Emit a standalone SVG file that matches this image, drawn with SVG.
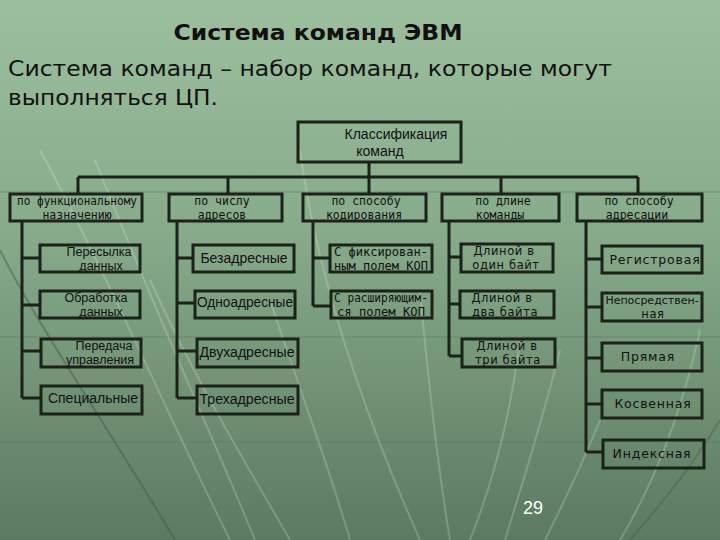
<svg xmlns="http://www.w3.org/2000/svg" width="720" height="540" viewBox="0 0 720 540">
<defs>
<linearGradient id="bg" x1="0" y1="0" x2="0" y2="1">
<stop offset="0" stop-color="#9cc09e"/>
<stop offset="0.45" stop-color="#86a98a"/>
<stop offset="1" stop-color="#5b7a60"/>
</linearGradient>
<style>
.box{fill:none;stroke:#1b2218;stroke-width:3}
.ln{fill:none;stroke:#1b2218;stroke-width:3}
.bgl{fill:none;stroke:#e8f4e6;stroke-opacity:0.22;stroke-width:2}
.hl{fill:none;stroke:#5e7e62;stroke-opacity:0.4;stroke-width:1.5}
.t{font-family:"Liberation Sans",Arial,sans-serif;font-size:14px;fill:#111;text-anchor:middle}
.t2{font-family:"Liberation Sans",Arial,sans-serif;font-size:12.5px;fill:#111;text-anchor:middle}
.c{font-family:"DejaVu Sans Mono","Liberation Mono",monospace;font-size:11.5px;fill:#111;text-anchor:middle}
.p{font-family:"DejaVu Sans","Liberation Sans",sans-serif;font-size:12.5px;fill:#111;text-anchor:middle;letter-spacing:0.8px}
.p2{font-family:"DejaVu Sans","Liberation Sans",sans-serif;font-size:11.5px;fill:#111;text-anchor:middle;letter-spacing:0.6px}
</style>
</defs>
<rect width="720" height="540" fill="url(#bg)"/>
<g id="background">
<path class="hl" d="M0 192 H720"/>
<path class="hl" d="M0 337 H720"/>
<path class="hl" d="M0 442 H720"/>
<path class="bgl" d="M40 150 C110 280 170 420 230 540"/>
<path class="bgl" d="M95 160 C150 300 210 430 255 540"/>
<path class="bgl" d="M150 280 C200 390 250 470 290 540"/>
<path class="bgl" d="M270 300 C300 390 330 470 350 540"/>
<path class="bgl" d="M300 150 C320 300 380 450 420 540"/>
<path class="bgl" d="M420 290 C430 400 440 480 450 540"/>
<path class="bgl" d="M520 340 C510 420 490 490 470 540"/>
<path class="bgl" d="M560 350 C540 430 520 490 505 540"/>
<path class="bgl" d="M600 420 C580 470 560 510 545 540"/>
<path class="bgl" d="M700 330 C680 420 650 490 620 540"/>
<path fill="none" stroke="#3f5a43" stroke-opacity="0.45" stroke-width="2" d="M0 250 C40 330 110 430 175 540"/>
<path fill="none" stroke="#3f5a43" stroke-opacity="0.35" stroke-width="2" d="M720 420 C690 470 660 505 630 540"/>
</g>
<g id="title">
<text x="318" y="40" font-family="'DejaVu Sans','Liberation Sans',sans-serif" font-weight="bold" font-size="21" fill="#111" text-anchor="middle" textLength="289" lengthAdjust="spacingAndGlyphs">Система команд ЭВМ</text>
<text x="8" y="76" font-family="'DejaVu Sans','Liberation Sans',sans-serif" font-size="21" fill="#111" textLength="604" lengthAdjust="spacingAndGlyphs">Система команд – набор команд, которые могут</text>
<text x="8" y="105" font-family="'DejaVu Sans','Liberation Sans',sans-serif" font-size="21" fill="#111" textLength="210" lengthAdjust="spacingAndGlyphs">выполняться ЦП.</text>
</g>
<g id="connectors">
<path class="ln" d="M369 162 V177 M78 177 H638 M78 177 V194 M228 177 V194 M369 177 V194 M501 177 V194 M638 177 V194"/>
<path class="ln" d="M22 221 V398 M22 258 H40 M22 305 H40 M22 351 H41 M22 398 H41"/>
<path class="ln" d="M177 221 V398 M177 258 H193 M177 303 H195 M177 351 H197 M177 398 H197"/>
<path class="ln" d="M313 221 V306 M313 258 H330 M313 306 H331"/>
<path class="ln" d="M449 221 V356 M449 257 H461 M449 304 H460 M449 356 H462"/>
<path class="ln" d="M586 221 V452 M586 259 H602 M586 307 H602 M586 358 H602 M586 404 H602 M586 452 H603"/>
</g>
<g id="root">
<rect class="box" x="298" y="122" width="163" height="40"/>
<text class="t" x="396" y="139">Классификация</text>
<text class="t" x="380" y="156">команд</text>
</g>
<g id="cat1">
<rect class="box" x="10" y="194" width="132" height="27"/>
<text class="c" x="77" y="205" textLength="120" lengthAdjust="spacingAndGlyphs">по функциональному</text>
<text class="c" x="77" y="218.5">назначению</text>
</g>
<g id="cat2">
<rect class="box" x="169" y="194" width="113" height="27"/>
<text class="c" x="222" y="205">по числу</text>
<text class="c" x="222" y="218.5">адресов</text>
</g>
<g id="cat3">
<rect class="box" x="303" y="194" width="123" height="27"/>
<text class="c" x="366" y="205">по способу</text>
<text class="c" x="364" y="218.5">кодирования</text>
</g>
<g id="cat4">
<rect class="box" x="442" y="194" width="117" height="27"/>
<text class="c" x="503" y="205">по длине</text>
<text class="c" x="500" y="218.5">команды</text>
</g>
<g id="cat5">
<rect class="box" x="577" y="194" width="125" height="27"/>
<text class="c" x="639" y="205">по способу</text>
<text class="c" x="637" y="218.5">адресации</text>
</g>
<g id="n11">
<rect class="box" x="40" y="245" width="100" height="27"/>
<text class="t2" x="99" y="256">Пересылка</text>
<text class="t2" x="101" y="269.5">данных</text>
</g>
<g id="n12">
<rect class="box" x="40" y="291" width="100" height="27"/>
<text class="t2" x="96" y="302">Обработка</text>
<text class="t2" x="101" y="315.5">данных</text>
</g>
<g id="n13">
<rect class="box" x="41" y="339" width="100" height="28"/>
<text class="t2" x="104" y="350">Передача</text>
<text class="t2" x="100" y="363.5">управления</text>
</g>
<g id="n14">
<rect class="box" x="41" y="386" width="101" height="28"/>
<text class="t" x="93" y="403">Специальные</text>
</g>
<g id="n21">
<rect class="box" x="193" y="245" width="101" height="27"/>
<text class="t" x="244" y="263">Безадресные</text>
</g>
<g id="n22">
<rect class="box" x="195" y="291" width="100" height="27"/>
<text class="t" x="245" y="307" textLength="96" lengthAdjust="spacingAndGlyphs">Одноадресные</text>
</g>
<g id="n23">
<rect class="box" x="197" y="339" width="101" height="28"/>
<text class="t" x="247" y="357" textLength="95" lengthAdjust="spacingAndGlyphs">Двухадресные</text>
</g>
<g id="n24">
<rect class="box" x="197" y="386" width="101" height="28"/>
<text class="t" x="247" y="404" textLength="95" lengthAdjust="spacingAndGlyphs">Трехадресные</text>
</g>
<g id="n31">
<rect class="box" x="330" y="245" width="102" height="27"/>
<text class="c" x="381" y="256" textLength="94" lengthAdjust="spacingAndGlyphs">С фиксирован-</text>
<text class="c" x="381" y="269.5" textLength="94" lengthAdjust="spacingAndGlyphs">ным полем КОП</text>
</g>
<g id="n32">
<rect class="box" x="331" y="291" width="101" height="27"/>
<text class="c" x="381" y="302" textLength="94" lengthAdjust="spacingAndGlyphs">С расширяющим-</text>
<text class="c" x="381" y="315.5" textLength="88" lengthAdjust="spacingAndGlyphs">ся полем КОП</text>
</g>
<g id="n41">
<rect class="box" x="461" y="244" width="92" height="28"/>
<text class="p2" x="504" y="255">Длиной в</text>
<text class="p2" x="506" y="268.5">один байт</text>
</g>
<g id="n42">
<rect class="box" x="460" y="291" width="94" height="27"/>
<text class="p2" x="502" y="302">Длиной в</text>
<text class="p2" x="505" y="315.5">два байта</text>
</g>
<g id="n43">
<rect class="box" x="462" y="339" width="93" height="28"/>
<text class="p2" x="507" y="350">Длиной в</text>
<text class="p2" x="508" y="363.5">три байта</text>
</g>
<g id="n51">
<rect class="box" x="602" y="246" width="100" height="27"/>
<text class="p" x="655" y="264">Регистровая</text>
</g>
<g id="n52">
<rect class="box" x="602" y="293" width="100" height="28"/>
<text x="652" y="304" font-family="'DejaVu Sans','Liberation Sans',sans-serif" font-size="11" fill="#111" text-anchor="middle">Непосредствен-</text>
<text class="p2" x="653" y="317.5">ная</text>
</g>
<g id="n53">
<rect class="box" x="602" y="343" width="100" height="28"/>
<text class="p" x="648" y="361">Прямая</text>
</g>
<g id="n54">
<rect class="box" x="602" y="390" width="100" height="28"/>
<text class="p" x="653" y="408">Косвенная</text>
</g>
<g id="n55">
<rect class="box" x="603" y="440" width="101" height="28"/>
<text class="p" x="652" y="458">Индексная</text>
</g>
<text x="533" y="514" font-family="'Liberation Sans',Arial,sans-serif" font-size="18" fill="#ffffff" text-anchor="middle">29</text>
</svg>
